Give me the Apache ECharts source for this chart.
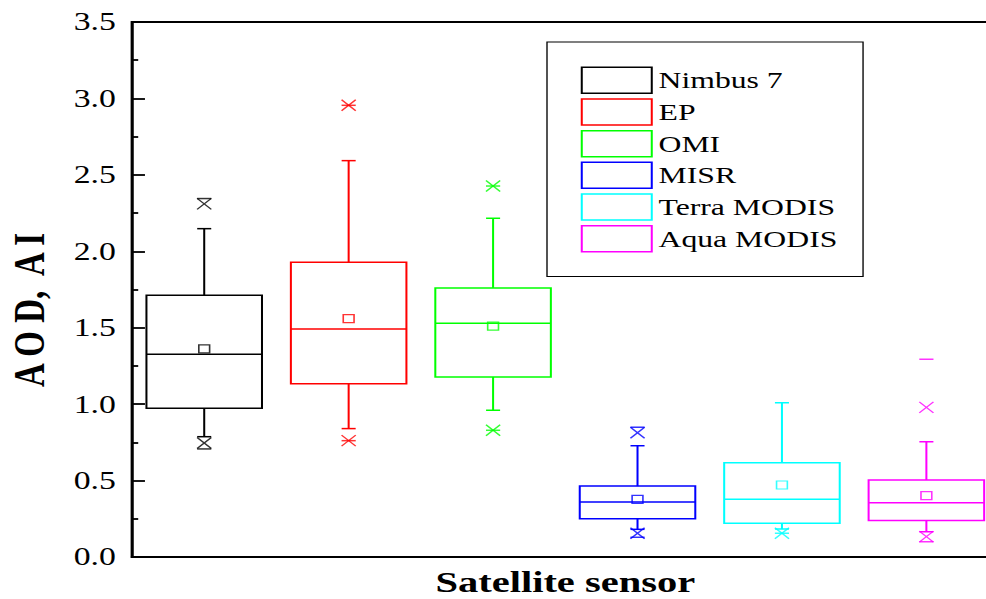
<!DOCTYPE html>
<html>
<head>
<meta charset="utf-8">
<script src="https://cdn.jsdelivr.net/npm/echarts@6/dist/echarts.min.js"></script>
<style>
  html, body { margin: 0; padding: 0; background: #fff; overflow: hidden; width: 986px; height: 599px; }
  #chart { position: absolute; left: 0; top: 0; height: 599px; transform-origin: 0 0; }
  #chart text { font-family: 'Liberation Serif', 'Times New Roman', serif !important; }
</style>
</head>
<body>
<div id="chart"></div>
<script>
// Sensors and their colours
const sensors = ['Nimbus 7', 'EP', 'OMI', 'MISR', 'Terra MODIS', 'Aqua MODIS'];
const colors = ['#000000', '#ff0000', '#00ff00', '#0000ff', '#00ffff', '#ff00ff'];

// Box statistics (AOD / AI)
const whiskerLow  = [0.787, 0.840, 0.960, 0.181, 0.183, 0.166];
const quart1      = [0.973, 1.134, 1.178, 0.251, 0.220, 0.238];
const median      = [1.326, 1.492, 1.529, 0.360, 0.377, 0.355];
const quart3      = [1.712, 1.928, 1.760, 0.464, 0.617, 0.504];
const whiskerHigh = [2.148, 2.593, 2.216, 0.728, 1.009, 0.754];
const mean        = [1.361, 1.559, 1.511, 0.377, 0.471, 0.401];
const pct99       = [2.310, 2.955, 2.427, 0.813, null, 0.979];
const pct1        = [0.746, 0.761, 0.829, 0.155, 0.155, 0.133];
const maxVal      = [2.345, 2.955, 2.427, 0.849, null, 1.293];
const minVal      = [0.707, 0.761, 0.829, 0.129, 0.155, 0.100];

// Y axis range
const yMin = 0, yMax = 3.5, yStep = 0.5;

// horizontal stretch of the whole drawing
const SX = 1.35;
const dom = document.getElementById('chart');
dom.style.width = (1010 / SX) + 'px';
dom.style.transform = 'scaleX(' + SX + ')';

const chart = echarts.init(dom, null, { renderer: 'svg' });
const serif = "'Liberation Serif', 'Times New Roman', serif";

function renderBox(params, api) {
  const i = api.value(0);
  const lo = api.coord([i, api.value(1)]);
  const b1 = api.coord([i, api.value(2)]);
  const md = api.coord([i, api.value(3)]);
  const b3 = api.coord([i, api.value(4)]);
  const hi = api.coord([i, api.value(5)]);
  const half = api.size([1, 0])[0] * 0.4;
  const cap = 5.2;
  const cx = lo[0];
  const style = { stroke: api.visual('color'), fill: 'none', lineWidth: 1.5 };
  const line = (x1, y1, x2, y2) => ({ type: 'line', shape: { x1, y1, x2, y2 }, style });
  return {
    type: 'group',
    children: [
      { type: 'rect', shape: { x: cx - half, y: b3[1], width: half * 2, height: b1[1] - b3[1] }, style },
      line(cx - half, md[1], cx + half, md[1]),
      line(cx, b3[1], cx, hi[1]),
      line(cx, b1[1], cx, lo[1]),
      line(cx - cap, hi[1], cx + cap, hi[1]),
      line(cx - cap, lo[1], cx + cap, lo[1])
    ]
  };
}

const boxSeries = sensors.map((name, i) => ({
  name,
  type: 'custom',
  renderItem: renderBox,
  itemStyle: { color: colors[i] },
  encode: { x: 0, y: [1, 2, 3, 4, 5] },
  data: [[i, whiskerLow[i], quart1[i], median[i], quart3[i], whiskerHigh[i]]],
  z: 2
}));

function markerData(vals, styleOf) {
  const out = [];
  vals.forEach((v, i) => {
    if (v !== null) out.push({ value: [i, v], itemStyle: styleOf(colors[i]) });
  });
  return out;
}

const crossPath = 'path://M0,0L10,10M10,0L0,10';
const hollow = c => ({ color: 'rgba(0,0,0,0)', borderColor: c, borderWidth: 1.2 });

const markerSeries = [
  { type: 'scatter', symbol: 'rect', symbolSize: [8, 8], z: 4, data: markerData(mean, hollow) },
  { type: 'scatter', symbol: crossPath, symbolSize: [10.5, 11], z: 4, data: markerData(pct99, hollow) },
  { type: 'scatter', symbol: crossPath, symbolSize: [10.5, 11], z: 4, data: markerData(pct1, hollow) },
  { type: 'scatter', symbol: 'rect', symbolSize: [10.5, 1.5], z: 4, data: markerData(maxVal, c => ({ color: c })) },
  { type: 'scatter', symbol: 'rect', symbolSize: [10.5, 1.5], z: 4, data: markerData(minVal, c => ({ color: c })) }
];

const option = {
  backgroundColor: '#fff',
  animation: false,
  grid: {
    left: 132 / SX, top: 22, width: 866.6 / SX, bottom: 42,
    outerBoundsMode: 'none', containLabel: false,
    show: true, borderColor: '#000', borderWidth: 2, backgroundColor: 'transparent'
  },
  legend: {
    orient: 'vertical',
    left: 547 / SX, top: 42,
    align: 'left',
    itemWidth: 70 / SX, itemHeight: 26, itemGap: 4.2,
    itemTextGap: 7,
    padding: [24.5, 19, 24, 25],
    borderColor: '#000', borderWidth: 1,
    backgroundColor: '#fff',
    selectedMode: false,
    textStyle: { fontFamily: serif, fontSize: 23.5, color: '#000' },
    data: sensors.map((name, i) => ({
      name, icon: 'rect',
      itemStyle: { color: 'rgba(0,0,0,0)', borderColor: colors[i], borderWidth: 1.5 }
    }))
  },
  xAxis: {
    type: 'category',
    data: sensors,
    boundaryGap: true,
    name: 'Satellite sensor',
    nameLocation: 'middle',
    nameGap: 10,
    nameTextStyle: { fontFamily: serif, fontSize: 30, fontWeight: 'bold', color: '#000' },
    axisLine: { lineStyle: { color: '#000', width: 2 } },
    axisTick: { inside: true, alignWithLabel: true, length: 9, lineStyle: { color: '#000', width: 1.5 } },
    axisLabel: { show: false },
    splitLine: { show: false }
  },
  yAxis: {
    type: 'value',
    min: yMin, max: yMax, interval: yStep,
    axisLine: { show: true, lineStyle: { color: '#000', width: 2 } },
    axisTick: { show: true, inside: true, length: 9.6, lineStyle: { color: '#000', width: 1.8 } },
    minorTick: { show: true, splitNumber: 2, length: 4.6, lineStyle: { color: '#000', width: 1.8 } },
    axisLabel: {
      margin: 12, fontFamily: serif, fontSize: 25, color: '#000',
      formatter: v => v.toFixed(1)
    },
    splitLine: { show: false }
  },
  graphic: [{
    type: 'text',
    x: 29 / SX, y: 310,
    rotation: Math.PI / 2,
    style: {
      text: 'A O D,  A I',
      fontFamily: serif, fontSize: 33, fontWeight: 'bold', fill: '#000',
      align: 'center', verticalAlign: 'middle'
    }
  }],
  series: boxSeries.concat(markerSeries)
};

chart.setOption(option);
</script>
</body>
</html>
